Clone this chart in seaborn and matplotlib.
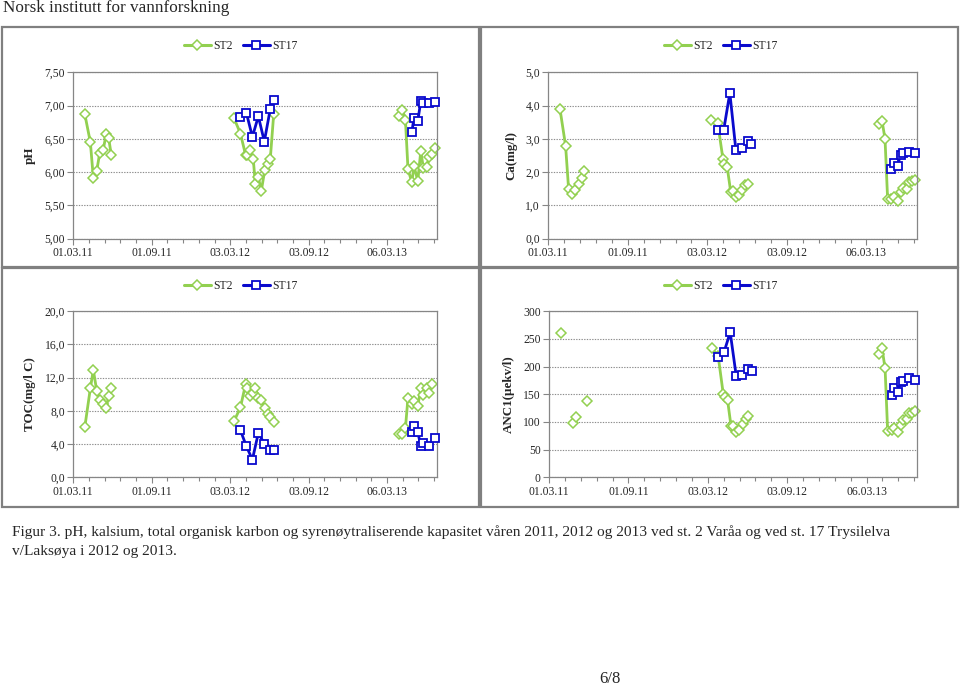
import numpy as np
import pandas as pd
import matplotlib
matplotlib.use('Agg')
import matplotlib.pyplot as plt
import matplotlib.dates as mdates
from matplotlib.patches import Rectangle
from matplotlib.lines import Line2D
from matplotlib.ticker import FuncFormatter, MultipleLocator
import seaborn as sns

# sampling dates (spring 2011, 2012, 2013)
st2_dates_2011 = ['2011-03-28', '2011-04-10', '2011-04-17', '2011-04-25', '2011-05-02',
                  '2011-05-10', '2011-05-17', '2011-05-23', '2011-05-29']
st2_dates_2012 = ['2012-03-12', '2012-03-27', '2012-04-08', '2012-04-11', '2012-04-18',
                  '2012-04-26', '2012-05-01', '2012-05-08', '2012-05-15', '2012-05-23',
                  '2012-05-30', '2012-06-05', '2012-06-13']
st2_dates_2013 = ['2013-04-04', '2013-04-11', '2013-04-18', '2013-04-24', '2013-05-03',
                  '2013-05-08', '2013-05-17', '2013-05-24', '2013-05-30', '2013-06-07',
                  '2013-06-13', '2013-06-20', '2013-06-26']
st17_dates_2012 = ['2012-03-27', '2012-04-10', '2012-04-24', '2012-05-08', '2012-05-22',
                   '2012-06-05', '2012-06-13']
st17_dates_2013 = ['2013-05-03', '2013-05-08', '2013-05-17', '2013-05-24', '2013-05-30',
                   '2013-06-12', '2013-06-26']

nan = np.nan

# pH
ph_st2_2011 = [6.87, 6.45, 5.91, 6.02, 6.29, 6.33, 6.57, 6.51, 6.26]
ph_st2_2012 = [6.81, 6.58, 6.26, 6.25, 6.33, 6.20, 5.82, 5.92, 5.72, 6.03, 6.12, 6.20, 6.87]
ph_st2_2013 = [6.85, 6.93, 6.78, 6.04, 5.85, 6.09, 5.87, 6.32, 6.06, 6.08, 6.22, 6.28, 6.37]
ph_st17_2012 = [6.83, 6.89, 6.53, 6.84, 6.46, 6.95, 7.08]
ph_st17_2013 = [6.60, 6.82, 6.77, 7.07, 7.04, 7.04, 7.05]

# Ca (mg/l)
ca_st2_2011 = [3.90, 2.79, 1.49, 1.35, 1.46, 1.63, 1.81, 2.03, nan]
ca_st2_2012 = [3.57, 3.47, 2.40, 2.23, 2.14, 1.41, 1.44, 1.24, 1.31, 1.46, 1.61, 1.65, nan]
ca_st2_2013 = [3.45, 3.55, 3.00, 1.20, 1.19, 1.24, 1.14, 1.41, 1.53, 1.49, 1.71, 1.73, 1.76]
ca_st17_2012 = [3.28, 3.28, 4.38, 2.66, 2.73, 2.95, 2.85]
ca_st17_2013 = [2.09, 2.28, 2.19, 2.53, 2.57, 2.61, 2.59]

# TOC (mg/l C)
toc_st2_2011 = [6.06, 10.72, 12.93, 10.4, 9.36, 8.8, 8.31, 9.84, 10.76]
toc_st2_2012 = [6.75, 8.43, 11.2, 10.72, 9.84, 10.12, 10.72, 9.6, 9.32, 8.39, 7.63, 7.23, 6.71]
toc_st2_2013 = [5.22, 5.22, 5.98, 9.6, 8.88, 9.2, 8.63, 10.72, 9.92, 10.72, 10.2, 11.2, nan]
toc_st17_2012 = [5.66, 3.73, 2.13, 5.34, 4.06, 3.25, 3.29]
toc_st17_2013 = [5.46, 6.18, 5.46, 3.73, 4.18, 3.82, 4.74]

# ANC1 (µekv/l)
anc_st2_2011 = [261, nan, nan, 99, 109, nan, nan, nan, 137]
anc_st2_2012 = [233, 220, 150, 145, 139, 92, 93, 82, 86, 97, 105, 111, nan]
anc_st2_2013 = [222, 233, 197, 83, 86, 89, 82, 95, 104, 105, 116, 117, 119]
anc_st17_2012 = [218, 227, 262, 183, 185, 195, 192]
anc_st17_2013 = [149, 161, 155, 173, 174, 179, 175]

tick_dates = ['2011-03-01', '2011-09-01', '2012-03-03', '2012-09-03', '2013-03-06']
tick_labels = ['01.03.11', '01.09.11', '03.03.12', '03.09.12', '06.03.13']

rows = []
def add(panel, station, dates, values):
    for d, v in zip(dates, values):
        rows.append((panel, station, d[:4], pd.Timestamp(d), v))

for name, s2, s17 in [
    ('pH', [ph_st2_2011, ph_st2_2012, ph_st2_2013], [ph_st17_2012, ph_st17_2013]),
    ('Ca', [ca_st2_2011, ca_st2_2012, ca_st2_2013], [ca_st17_2012, ca_st17_2013]),
    ('TOC', [toc_st2_2011, toc_st2_2012, toc_st2_2013], [toc_st17_2012, toc_st17_2013]),
    ('ANC', [anc_st2_2011, anc_st2_2012, anc_st2_2013], [anc_st17_2012, anc_st17_2013]),
]:
    for dates, vals in zip([st2_dates_2011, st2_dates_2012, st2_dates_2013], s2):
        add(name, 'ST2', dates, vals)
    for dates, vals in zip([st17_dates_2012, st17_dates_2013], s17):
        add(name, 'ST17', dates, vals)

df = pd.DataFrame(rows, columns=['panel', 'station', 'year', 'date', 'value'])

sns.set_style('white')
plt.rcParams['font.family'] = ['Liberation Serif', 'DejaVu Serif']

green = '#92D050'
blue = '#0A0ACD'
style = {
    'ST2': dict(color=green, marker='D', markersize=4.8, lw=2.0, mew=1.1),
    'ST17': dict(color=blue, marker='s', markersize=6.4, lw=2.0, mew=1.3),
}

W, H = 960, 687
fig = plt.figure(figsize=(9.6, 6.87), dpi=100)

def fx(px):
    return px / W

def fy(py):
    return 1 - py / H

# chart frames
for (x0, y0, x1, y1) in [(2, 27, 479, 267), (481, 27, 958, 267),
                         (2, 268, 479, 507), (481, 268, 958, 507)]:
    fig.add_artist(Rectangle((fx(x0), fy(y1)), fx(x1 - x0), (y1 - y0) / H,
                             transform=fig.transFigure, fill=False,
                             edgecolor='#808080', lw=1.6))

panels = [
    ('pH', 'pH', (73.3, 72.3, 437, 238.7), (5.0, 7.5, 0.5), '{:.2f}', 241, 46),
    ('Ca', 'Ca(mg/l)', (548.3, 72.3, 917, 238.7), (0.0, 5.0, 1.0), '{:.1f}', 721, 46),
    ('TOC', 'TOC(mg/l C)', (73.3, 311.3, 437, 477.3), (0.0, 20.0, 4.0), '{:.1f}', 241, 286),
    ('ANC', 'ANC1(µekv/l)', (549, 311.3, 917, 477.3), (0, 300, 50), '{:.0f}', 721, 286),
]

x_start = pd.Timestamp('2011-03-01')
x_end = pd.Timestamp('2013-07-01')
minor = mdates.date2num(x_start) + np.arange(0, 30) * 36.8
minor = minor[minor <= mdates.date2num(x_end)]

for key, ylabel, (l, t, r, b), (y0, y1, ystep), fmt, legx, legy in panels:
    ax = fig.add_axes([fx(l), fy(b), fx(r - l), (b - t) / H])
    sub = df[df['panel'] == key]
    for station in ['ST2', 'ST17']:
        st = style[station]
        for _, part in sub[sub['station'] == station].groupby('year'):
            part = part.reset_index(drop=True)
            # break the line where a value is missing
            run = part['value'].isna().cumsum()
            ok = part['value'].notna()
            for _, seg in part[ok].groupby(run[ok]):
                sns.lineplot(data=seg, x='date', y='value', ax=ax, color=st['color'],
                             lw=st['lw'], marker=st['marker'], markersize=st['markersize'],
                             markerfacecolor='white', markeredgecolor=st['color'],
                             markeredgewidth=st['mew'], errorbar=None, legend=False,
                             clip_on=False, zorder=3 if station == 'ST17' else 2)
    ax.set_xlim(x_start, x_end)
    ax.set_ylim(y0, y1)
    ax.yaxis.set_major_locator(MultipleLocator(ystep))
    ax.yaxis.set_major_formatter(FuncFormatter(lambda v, p, f=fmt: f.format(v).replace('.', ',')))
    ax.set_xticks(pd.to_datetime(tick_dates))
    ax.set_xticklabels(tick_labels)
    ax.set_xticks(minor, minor=True)
    ax.tick_params(axis='both', which='major', direction='out', length=4, width=0.8,
                   color='#868686', labelsize=8.4, pad=2, bottom=True, left=True)
    ax.tick_params(axis='x', which='minor', direction='out', length=3, width=0.8,
                   color='#868686', bottom=True)
    ax.grid(axis='y', which='major', color='#8c8c8c', linestyle=(0, (1.2, 1.2)), lw=0.8)
    ax.grid(axis='x', visible=False)
    for sp in ax.spines.values():
        sp.set_color('#868686')
        sp.set_linewidth(0.9)
        sp.set_visible(True)
    ax.set_xlabel('')
    ax.set_ylabel(ylabel, fontsize=9.4, fontweight='bold', labelpad=6)

    handles = [Line2D([], [], color=style[s]['color'], lw=2.2, marker=style[s]['marker'],
                      markersize=style[s]['markersize'], markerfacecolor='white',
                      markeredgecolor=style[s]['color'], markeredgewidth=style[s]['mew'])
               for s in ['ST2', 'ST17']]
    fig.legend(handles, ['ST2', 'ST17'], loc='center', bbox_to_anchor=(fx(legx), fy(legy)),
               ncol=2, frameon=False, fontsize=8.5, handlelength=2.25, handletextpad=0.25,
               columnspacing=0.85, borderpad=0)

fig.text(fx(3), fy(8), 'Norsk institutt for vannforskning', fontsize=12.3, va='center', ha='left')
fig.text(fx(12), fy(532), 'Figur 3. pH, kalsium, total organisk karbon og syrenøytraliserende '
         'kapasitet våren 2011, 2012 og 2013 ved st. 2 Varåa og ved st. 17 Trysilelva',
         fontsize=11.1, va='center', ha='left')
fig.text(fx(12), fy(551), 'v/Laksøya i 2012 og 2013.', fontsize=11.1, va='center', ha='left')
fig.text(fx(610), fy(679), '6/8', fontsize=12, va='center', ha='center')

fig.savefig('out.png', dpi=100)
